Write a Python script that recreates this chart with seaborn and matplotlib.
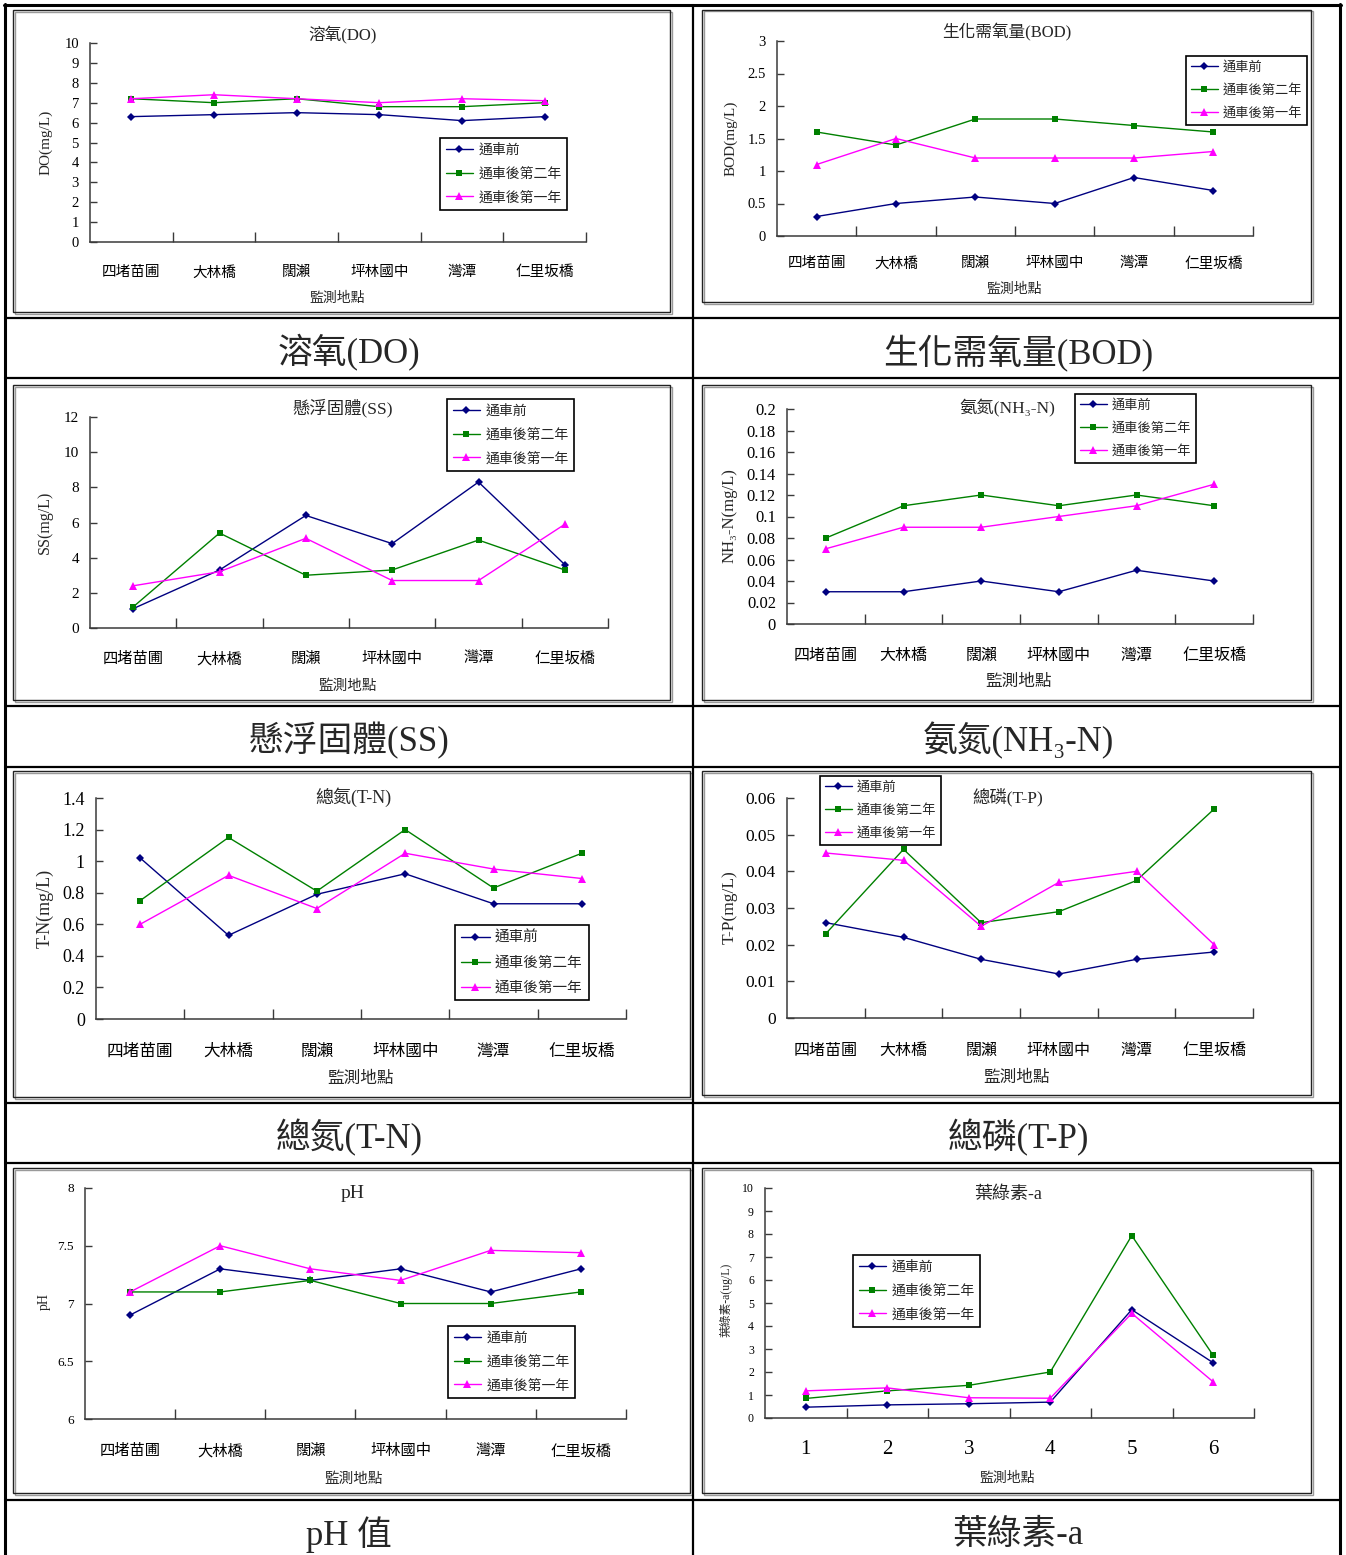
import matplotlib
matplotlib.use("Agg")
import matplotlib.pyplot as plt
import seaborn as sns
import pandas as pd
from matplotlib.patches import Rectangle
from matplotlib.lines import Line2D
from matplotlib.ticker import FixedLocator, FuncFormatter

sns.set_theme(style="white")
FONTS = ["Liberation Serif", "Noto Sans CJK TC", "DejaVu Sans"]
plt.rcParams["font.family"] = FONTS

# ---- data -------------------------------------------------------------
sites = ["四堵苗圃", "大林橋", "闊瀨", "坪林國中", "灣潭", "仁里坂橋"]
stations = ["1", "2", "3", "4", "5", "6"]
series_names = ["通車前", "通車後第二年", "通車後第一年"]
series_colors = ["#000080", "#008000", "#FF00FF"]
series_markers = ["D", "s", "^"]
series_msize = [4.2, 5.0, 6.0]

do_before = [6.3, 6.4, 6.5, 6.4, 6.1, 6.3]
do_year2 = [7.2, 7.0, 7.2, 6.8, 6.8, 7.0]
do_year1 = [7.2, 7.4, 7.2, 7.0, 7.2, 7.1]

bod_before = [0.3, 0.5, 0.6, 0.5, 0.9, 0.7]
bod_year2 = [1.6, 1.4, 1.8, 1.8, 1.7, 1.6]
bod_year1 = [1.1, 1.5, 1.2, 1.2, 1.2, 1.3]

ss_before = [1.1, 3.3, 6.4, 4.8, 8.3, 3.6]
ss_year2 = [1.2, 5.4, 3.0, 3.3, 5.0, 3.3]
ss_year1 = [2.4, 3.2, 5.1, 2.7, 2.7, 5.9]

nh3_before = [0.03, 0.03, 0.04, 0.03, 0.05, 0.04]
nh3_year2 = [0.08, 0.11, 0.12, 0.11, 0.12, 0.11]
nh3_year1 = [0.07, 0.09, 0.09, 0.10, 0.11, 0.13]

tn_before = [1.02, 0.53, 0.79, 0.92, 0.73, 0.73]
tn_year2 = [0.75, 1.15, 0.81, 1.20, 0.83, 1.05]
tn_year1 = [0.60, 0.91, 0.70, 1.05, 0.95, 0.89]

tp_before = [0.026, 0.022, 0.016, 0.012, 0.016, 0.018]
tp_year2 = [0.023, 0.046, 0.026, 0.029, 0.0375, 0.057]
tp_year1 = [0.045, 0.043, 0.025, 0.037, 0.040, 0.020]

ph_before = [6.9, 7.3, 7.2, 7.3, 7.1, 7.3]
ph_year2 = [7.1, 7.1, 7.2, 7.0, 7.0, 7.1]
ph_year1 = [7.1, 7.5, 7.3, 7.2, 7.46, 7.44]

chl_before = [0.47, 0.57, 0.62, 0.69, 4.71, 2.40]
chl_year2 = [0.85, 1.18, 1.42, 2.00, 7.93, 2.72]
chl_year1 = [1.18, 1.31, 0.88, 0.86, 4.55, 1.57]

# ---- figure / layout helpers (pixel coordinates, origin top-left) -----
W, H = 1346, 1555
fig = plt.figure(figsize=(W / 100, H / 100), dpi=100)
fig.patch.set_facecolor("white")


def fx(x):
    return x / W


def fy(y):
    return 1 - y / H


def rect(x0, y0, x1, y1):
    return [x0 / W, 1 - y1 / H, (x1 - x0) / W, (y1 - y0) / H]


def hline(y, x0, x1, lw):
    fig.add_artist(Line2D([fx(x0), fx(x1)], [fy(y), fy(y)], color="black",
                          lw=lw, transform=fig.transFigure))


def vline(x, y0, y1, lw):
    fig.add_artist(Line2D([fx(x), fx(x)], [fy(y0), fy(y1)], color="black",
                          lw=lw, transform=fig.transFigure))


def fmt_num(v, pos=None):
    return f"{round(v, 4):g}"


panels = [
    dict(cats=sites, vals=(do_before, do_year2, do_year1), ylim=(0, 10),
         yticks=list(range(0, 11)), frame=(13, 10, 670, 312),
         ax=(90, 43, 586, 242), title=("溶氧(DO)", 343, 35, 12),
         ylabel=("DO(mg/L)", 46, 142, 11), xlabel=(337, 298, 10),
         xtick_fs=10.5, ytick_fs=10.5, xpad=17, legend=(440, 138, 10),
         caption=("溶氧(DO)", 349, 353)),
    dict(cats=sites, vals=(bod_before, bod_year2, bod_year1), ylim=(0, 3),
         yticks=[0, 0.5, 1, 1.5, 2, 2.5, 3], frame=(702, 10, 1311, 302),
         ax=(777, 41, 1253, 236), title=("生化需氧量(BOD)", 1007, 32, 12),
         ylabel=("BOD(mg/L)", 731, 138, 11), xlabel=(1014, 289, 10),
         xtick_fs=10.5, ytick_fs=10.5, xpad=15, legend=(1186, 56, 9.5),
         caption=("生化需氧量(BOD)", 1018, 353)),
    dict(cats=sites, vals=(ss_before, ss_year2, ss_year1), ylim=(0, 12),
         yticks=list(range(0, 13, 2)), frame=(13, 385, 670, 700),
         ax=(90, 417, 608, 628), title=("懸浮固體(SS)", 343, 408, 12.5),
         ylabel=("SS(mg/L)", 45, 522, 11.5), xlabel=(348, 686, 10.5),
         xtick_fs=11, ytick_fs=11, xpad=17, legend=(447, 399, 10),
         caption=("懸浮固體(SS)", 349, 741)),
    dict(cats=sites, vals=(nh3_before, nh3_year2, nh3_year1), ylim=(0, 0.2),
         yticks=[0, 0.02, 0.04, 0.06, 0.08, 0.1, 0.12, 0.14, 0.16, 0.18, 0.2],
         frame=(702, 385, 1311, 700), ax=(787, 409, 1253, 624),
         title=("氨氮(NH₃-N)", 1007, 408, 12.5),
         ylabel=("NH₃-N(mg/L)", 730, 516, 12), xlabel=(1018, 682, 12),
         xtick_fs=11.5, ytick_fs=12, xpad=17, legend=(1075, 394, 9.5),
         caption=("氨氮(NH₃-N)", 1018, 741)),
    dict(cats=sites, vals=(tn_before, tn_year2, tn_year1), ylim=(0, 1.4),
         yticks=[0, 0.2, 0.4, 0.6, 0.8, 1.0, 1.2, 1.4],
         frame=(13, 771, 690, 1097), ax=(96, 798, 626, 1019),
         title=("總氮(T-N)", 353, 797, 13),
         ylabel=("T-N(mg/L)", 45, 908, 13), xlabel=(360, 1079, 12),
         xtick_fs=12, ytick_fs=13, xpad=18, legend=(455, 925, 10.5),
         caption=("總氮(T-N)", 349, 1138)),
    dict(cats=sites, vals=(tp_before, tp_year2, tp_year1), ylim=(0, 0.06),
         yticks=[0, 0.01, 0.02, 0.03, 0.04, 0.05, 0.06],
         frame=(702, 771, 1311, 1095), ax=(787, 798, 1253, 1018),
         title=("總磷(T-P)", 1008, 797, 12.5),
         ylabel=("T-P(mg/L)", 730, 907, 12.5), xlabel=(1017, 1078, 12),
         xtick_fs=11.5, ytick_fs=12.5, xpad=18, legend=(820, 776, 9.5),
         caption=("總磷(T-P)", 1018, 1138)),
    dict(cats=sites, vals=(ph_before, ph_year2, ph_year1), ylim=(6, 8),
         yticks=[6, 6.5, 7, 7.5, 8], frame=(13, 1168, 690, 1493),
         ax=(85, 1188, 626, 1419), title=("pH", 353, 1193, 14),
         ylabel=("pH", 44, 1302, 10), xlabel=(354, 1479, 10.5),
         xtick_fs=11, ytick_fs=9.5, xpad=18, legend=(448, 1326, 10),
         caption=("pH 值", 349, 1535)),
    dict(cats=stations, vals=(chl_before, chl_year2, chl_year1), ylim=(0, 10),
         yticks=list(range(0, 11)), frame=(702, 1168, 1311, 1493),
         ax=(765, 1188, 1254, 1418), title=("葉綠素-a", 1008, 1194, 13),
         ylabel=("葉綠素-a(ug/L)", 726, 1300, 8.5), xlabel=(1007, 1478, 10),
         xtick_fs=15, ytick_fs=8.5, xpad=16, legend=(853, 1255, 10),
         caption=("葉綠素-a", 1018, 1535)),
]

AXIS_COLOR = "#3a3a3a"

for p in panels:
    # chart frame with a faint drop shadow
    x0, y0, x1, y1 = p["frame"]
    fig.add_artist(Rectangle((fx(x0) + 1.5 / W, fy(y1) - 1.5 / H),
                             (x1 - x0) / W, (y1 - y0) / H,
                             transform=fig.transFigure, fill=False,
                             edgecolor="#9a9a9a", lw=1.0))
    fig.add_artist(Rectangle((fx(x0), fy(y1)), (x1 - x0) / W, (y1 - y0) / H,
                             transform=fig.transFigure, fill=False,
                             edgecolor="#222222", lw=1.0))

    ax = fig.add_axes(rect(*p["ax"]))
    ax.set_facecolor("none")
    cats = p["cats"]
    for name, vals, col, mk, ms in zip(series_names, p["vals"], series_colors,
                                       series_markers, series_msize):
        df = pd.DataFrame({"site": cats, "value": vals})
        sns.lineplot(data=df, x="site", y="value", ax=ax, color=col,
                     marker=mk, markersize=ms, markeredgewidth=0,
                     linewidth=1.0, sort=False, label=name)

    n = len(cats)
    ax.set_xlim(-0.5, n - 0.5)
    ax.set_ylim(*p["ylim"])
    ax.set_xlabel("")
    ax.set_ylabel("")
    for s in ("top", "right"):
        ax.spines[s].set_visible(False)
    for s in ("left", "bottom"):
        ax.spines[s].set_color(AXIS_COLOR)
        ax.spines[s].set_linewidth(1.1)

    ax.yaxis.set_major_locator(FixedLocator(p["yticks"]))
    ax.yaxis.set_major_formatter(FuncFormatter(fmt_num))
    ax.tick_params(axis="y", which="major", direction="in", length=5,
                   width=1, color=AXIS_COLOR, pad=8, labelsize=p["ytick_fs"],
                   left=True, labelcolor="black")
    ax.set_xticks(range(n))
    ax.set_xticklabels(cats)
    ax.set_xticks([i + 0.5 for i in range(n)], minor=True)
    ax.tick_params(axis="x", which="major", length=0, pad=p["xpad"],
                   labelsize=p["xtick_fs"], labelcolor="black")
    ax.tick_params(axis="x", which="minor", direction="in", length=7,
                   width=1, color=AXIS_COLOR, bottom=True)
    ax.grid(False)

    leg_x, leg_y, leg_fs = p["legend"]
    leg = ax.legend(loc="upper left", bbox_to_anchor=(fx(leg_x), fy(leg_y)),
                    bbox_transform=fig.transFigure, frameon=True,
                    fancybox=False, edgecolor="black", fontsize=leg_fs,
                    handlelength=2.0, handletextpad=0.35, labelspacing=0.75,
                    borderpad=0.4, borderaxespad=0, framealpha=1)
    leg.get_frame().set_linewidth(1.2)

    t, tx, ty, tfs = p["title"]
    fig.text(fx(tx), fy(ty), t, ha="center", va="center", fontsize=tfs)
    yl, yx, yy, yfs = p["ylabel"]
    fig.text(fx(yx), fy(yy), yl, ha="center", va="center", fontsize=yfs,
             rotation=90)
    xx, xy, xfs = p["xlabel"]
    fig.text(fx(xx), fy(xy), "監測地點", ha="center", va="center", fontsize=xfs)
    c, cx, cy = p["caption"]
    fig.text(fx(cx), fy(cy), c, ha="center", va="center", fontsize=25)

# ---- table rules ------------------------------------------------------
vline(5, 4, H, 2.2)
vline(1340, 4, H, 2.2)
hline(5, 4, 1341, 2.2)
vline(693, 5, H, 1.6)
for y in (318, 378, 706, 767, 1103, 1163, 1500):
    hline(y, 5, 1340, 1.6)

fig.savefig("out.png", dpi=100, facecolor="white")
